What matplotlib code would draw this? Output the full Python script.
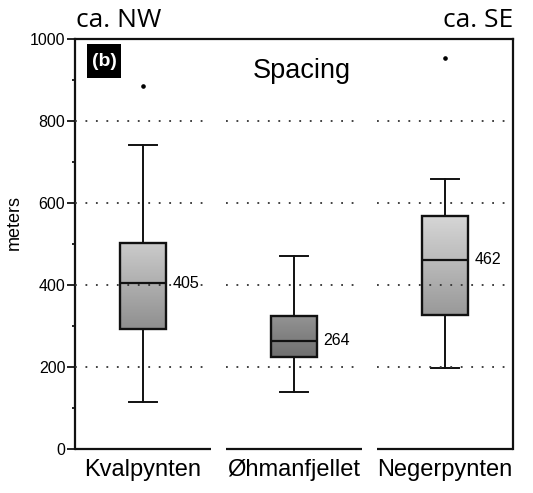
import matplotlib.pyplot as plt
import numpy as np
from matplotlib.colors import LinearSegmentedColormap
from matplotlib.patches import Rectangle

# data
sites = ['Kvalpynten', 'Øhmanfjellet', 'Negerpynten']
medians = [405, 264, 462]
q1 = [293, 225, 327]
q3 = [502, 324, 568]
whis_lo = [115, 140, 197]
whis_hi = [741, 471, 659]
outliers = [[886], [], [955]]

# gradient colours per box (top, bottom)
grad_top = ['#cbcbcb', '#939393', '#d6d6d6']
grad_bot = ['#8f8f8f', '#6f6f6f', '#999999']

plt.rcParams['font.family'] = ['Liberation Sans', 'DejaVu Sans']

fig = plt.figure(figsize=(5.33, 4.93), dpi=100)
ax = fig.add_axes([0.1407, 0.0892, 0.8218, 0.8311])

pos = np.arange(1, len(sites) + 1)
stats = []
for i in range(len(sites)):
    stats.append(dict(med=medians[i], q1=q1[i], q3=q3[i],
                      whislo=whis_lo[i], whishi=whis_hi[i], fliers=outliers[i]))

bp = ax.bxp(stats, positions=pos, widths=0.30, patch_artist=True,
            boxprops=dict(facecolor='none', edgecolor='#111111', linewidth=1.7),
            medianprops=dict(color='#111111', linewidth=1.6),
            whiskerprops=dict(color='#111111', linewidth=1.4),
            capprops=dict(color='#111111', linewidth=1.4),
            capwidths=0.18,
            flierprops=dict(marker='o', markersize=2.3, markerfacecolor='black',
                            markeredgecolor='black'))

# gradient fill clipped to each box
grad = np.linspace(0, 1, 256).reshape(-1, 1)
for i, box in enumerate(bp['boxes']):
    box.set_zorder(3)
    cmap = LinearSegmentedColormap.from_list('g%d' % i, [grad_top[i], grad_bot[i]])
    im = ax.imshow(grad, cmap=cmap, aspect='auto', zorder=2,
                   extent=[pos[i] - 0.15, pos[i] + 0.15, q1[i], q3[i]])
    im.set_clip_path(box)
for k in ['medians', 'whiskers', 'caps']:
    for ln in bp[k]:
        ln.set_zorder(4)

# median labels
for i in range(len(sites)):
    ax.annotate(str(medians[i]), xy=(pos[i] + 0.15, medians[i]), xytext=(5, 0),
                textcoords='offset points', ha='left', va='center', fontsize=11.5)

# dotted grid, broken between groups
for y in [200, 400, 600, 800]:
    for p in pos:
        ax.plot([p - 0.45, p + 0.45], [y, y], color='#333333', lw=1.3,
                linestyle=(0, (1, 4.8)), zorder=5)

# broken bottom axis
for p in pos:
    ax.plot([p - 0.45, p + 0.45], [0, 0], color='#111111', lw=1.6,
            clip_on=False, zorder=6, solid_capstyle='butt')

ax.set_xlim(0.55, 3.45)
ax.set_ylim(0, 1000)
ax.spines['bottom'].set_visible(False)
for s in ['left', 'right', 'top']:
    ax.spines[s].set_linewidth(1.6)
    ax.spines[s].set_color('#111111')

ax.set_xticks(pos)
ax.set_xticklabels(sites, fontsize=17)
ax.tick_params(axis='x', length=0, pad=7)
ax.set_yticks([0, 200, 400, 600, 800, 1000])
ax.set_yticks([100, 300, 500, 700, 900], minor=True)
ax.tick_params(axis='y', which='major', length=6, width=1.2, labelsize=11.5, pad=1)
ax.tick_params(axis='y', which='minor', length=2.5, width=1.2)

fig.text(14 / 533, 1 - 222 / 493, 'meters', rotation=90, ha='center', va='center',
         fontsize=13)

# titles
ax.text(0.518, 0.905, 'Spacing', transform=ax.transAxes, ha='center',
        va='baseline', fontsize=19.5)
ax.add_patch(Rectangle((0.0274, 0.905), 0.078, 0.083, transform=ax.transAxes,
                       facecolor='black', edgecolor='none', zorder=7))
ax.text(0.0664, 0.947, '(b)', transform=ax.transAxes, ha='center', va='center',
        fontsize=14, fontweight='bold', color='white', zorder=8)
fig.text(76 / 533, 1 - 27 / 493, 'ca. NW', ha='left', va='baseline',
         fontsize=19, family=['Open Sans', 'DejaVu Sans'])
fig.text(513 / 533, 1 - 27 / 493, 'ca. SE', ha='right', va='baseline',
         fontsize=19, family=['Open Sans', 'DejaVu Sans'])

fig.savefig('out.png', dpi=100)
